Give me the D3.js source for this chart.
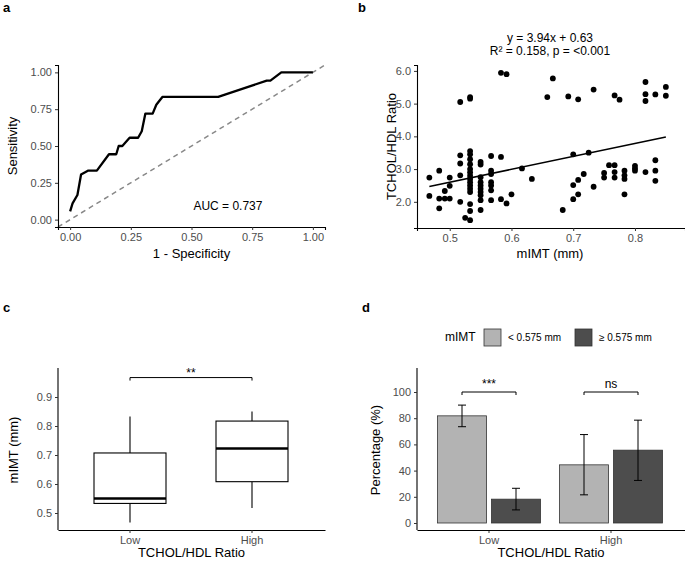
<!DOCTYPE html>
<html><head><meta charset="utf-8">
<script src="https://cdn.jsdelivr.net/npm/d3@7"></script>
<style>body{margin:0;background:#fff}text{font-family:"Liberation Sans",Arial,sans-serif}</style>
</head><body><svg id="c" width="685" height="563"></svg>
<script>
// ---- Data ----
const rocFPR = [0,0.01,0.03,0.045,0.06,0.075,0.11,0.16,0.19,0.2,0.215,0.245,0.28,0.295,0.31,0.34,0.355,0.38,0.61,0.81,0.825,0.87,1];
const rocTPR = [0.056,0.11,0.167,0.306,0.32,0.333,0.333,0.444,0.444,0.5,0.5,0.556,0.556,0.6,0.72,0.72,0.78,0.833,0.833,0.944,0.944,1,1];
const rocTicks = [0,0.25,0.5,0.75,1];
const scatterX = [0.467,0.467,0.483,0.483,0.483,0.492,0.492,0.5,0.5,0.5,0.517,0.517,0.517,0.517,0.517,0.525,
 0.533,0.533,0.533,0.533,0.533,0.533,0.533,0.533,0.533,0.533,0.533,0.533,0.533,0.533,0.533,0.533,0.533,
 0.55,0.55,0.55,0.55,0.55,0.55,0.55,0.55,0.55,0.55,0.567,0.567,0.567,0.567,0.567,0.567,0.567,
 0.583,0.583,0.583,0.592,0.592,0.6,0.617,0.633,0.658,0.667,0.683,0.692,0.7,0.7,0.7,0.708,0.708,0.708,0.717,0.725,0.733,0.733,
 0.75,0.75,0.758,0.767,0.767,0.767,0.767,0.775,0.783,0.783,0.783,0.783,0.8,0.8,0.8,0.817,0.817,0.817,0.817,0.833,0.833,0.833,0.833,0.85,0.85];
const scatterY = [2.74,2.18,2.95,2.10,1.80,2.33,2.10,2.74,2.49,2.10,5.05,3.42,3.17,2.81,2.0,1.51,
 5.2,5.15,3.55,3.45,3.3,3.15,3.0,2.9,2.8,2.7,2.6,2.5,2.4,2.3,1.93,1.72,1.44,
 3.22,3.14,2.75,2.6,2.5,2.4,2.3,2.2,2.05,1.75,3.40,2.95,2.85,2.6,2.5,2.35,2.05,
 5.94,3.37,2.08,5.9,1.95,2.23,3.02,2.7,5.2,5.77,1.75,5.22,3.45,2.51,2.08,5.13,2.67,2.23,2.85,3.5,5.43,2.46,
 2.88,2.74,3.12,5.25,3.12,2.91,2.74,5.12,2.95,2.81,2.70,2.23,3.1,3.02,2.95,5.66,5.29,5.08,2.91,5.28,3.27,2.95,2.64,5.51,5.24];
const scatterXTicks = [0.5,0.6,0.7,0.8];
const scatterYTicks = [2,3,4,5,6];
const fitSlope = 3.94, fitIntercept = 0.63, fitRange = [0.467,0.85];
const boxGroups = ["Low","High"];
const boxStats = [ {min:0.467,q1:0.533,med:0.55,q3:0.707,max:0.833}, {min:0.517,q1:0.608,med:0.722,q3:0.817,max:0.85} ];
const boxTicks = [0.5,0.6,0.7,0.8,0.9];
const barGroups = ["Low","High"];
const barSeries = ["< 0.575 mm","≥ 0.575 mm"];
const barValues = [[81.8,18.2],[44.4,55.6]];
const barLo = [[73.5,10],[21.5,32.5]];
const barHi = [[90,26.5],[67.5,78.5]];
const barSig = ["***","ns"];
const barTicks = [0,20,40,60,80,100];
const barColors = ["#b3b3b3","#4d4d4d"];

const svg = d3.select("#c");
const fs=11, tfs=13;
function axes(L,B,xa,ya){
  const ax=svg.append("g").attr("transform",`translate(0,${B})`).call(xa);
  const ay=svg.append("g").attr("transform",`translate(${L},0)`).call(ya);
  [ax,ay].forEach(a=>{a.select(".domain").attr("stroke","#000").attr("stroke-width",1.1);
    a.selectAll(".tick line").attr("stroke","#333");
    a.selectAll("text").attr("fill","#4d4d4d").style("font-size",fs+"px").style("font-family","Liberation Sans, Arial, sans-serif");});
}
function label(t,x,y){svg.append("text").attr("x",x).attr("y",y).text(t).style("font-weight","bold").style("font-size","13px");}
function title(t,x,y,rot){const e=svg.append("text").attr("text-anchor","middle").style("font-size",tfs+"px").text(t);
  if(rot) e.attr("transform",`translate(${x},${y}) rotate(-90)`); else e.attr("x",x).attr("y",y);}

// ---- Panel a ----
{
 const L=58,T=65,R=325,B=227;
 const x=d3.scaleLinear().domain([-0.05,1.05]).range([L,R]);
 const y=d3.scaleLinear().domain([-0.05,1.05]).range([B,T]);
 svg.append("line").attr("x1",x(-0.05)).attr("y1",y(-0.05)).attr("x2",x(1.05)).attr("y2",y(1.05)).attr("stroke","#888").attr("stroke-width",1.5).attr("stroke-dasharray","5,4");
 svg.append("path").datum(rocFPR.map((f,i)=>[f,rocTPR[i]])).attr("d",d3.line().x(d=>x(d[0])).y(d=>y(d[1]))).attr("fill","none").attr("stroke","#000").attr("stroke-width",2.3).attr("stroke-linejoin","round");
 svg.append("text").attr("x",x(0.65)).attr("y",y(0.1)+5).attr("text-anchor","middle").style("font-size","12px").text("AUC = 0.737");
 const f=d3.format(".2f");
 axes(L,B,d3.axisBottom(x).tickValues(rocTicks).tickFormat(f).tickSizeOuter(0).tickSize(3),d3.axisLeft(y).tickValues(rocTicks).tickFormat(f).tickSizeOuter(0).tickSize(3));
 label("a",3,12); title("1 - Specificity",(L+R)/2,258); title("Sensitivity",17,(T+B)/2,true);
}
// ---- Panel b ----
{
 const L=417,T=65,R=685,B=228;
 const x=d3.scaleLinear().domain([0.447,0.881]).range([L,R]);
 const y=d3.scaleLinear().domain([1.2,6.18]).range([B,T]);
 svg.append("g").selectAll("circle").data(scatterX.map((v,i)=>[v,scatterY[i]])).join("circle")
  .attr("cx",d=>x(d[0])).attr("cy",d=>y(d[1])).attr("r",2.9).attr("fill","#000");
 svg.append("line").attr("x1",x(fitRange[0])).attr("y1",y(fitSlope*fitRange[0]+fitIntercept))
  .attr("x2",x(fitRange[1])).attr("y2",y(fitSlope*fitRange[1]+fitIntercept)).attr("stroke","#000").attr("stroke-width",1.6);
 axes(L,B,d3.axisBottom(x).tickValues(scatterXTicks).tickFormat(d3.format(".1f")).tickSizeOuter(0).tickSize(3),d3.axisLeft(y).tickValues(scatterYTicks).tickSizeOuter(0).tickSize(3));
 svg.append("text").attr("x",550).attr("y",42).attr("text-anchor","middle").style("font-size","12px").text("y = 3.94x + 0.63");
 svg.append("text").attr("x",550).attr("y",55).attr("text-anchor","middle").style("font-size","12px").text("R² = 0.158, p = <0.001");
 label("b",358,12); title("mIMT (mm)",550,258); title("TCHOL/HDL Ratio",396,(T+B)/2,true);
}
// ---- Panel c ----
{
 const L=58,T=368,R=325,B=530;
 const y=d3.scaleLinear().domain([0.9,0.5]).range([397,513]);
 const x=d3.scalePoint().domain(boxGroups).range([130,252]);
 const bw=72;
 boxStats.forEach((s,i)=>{
  const cx=x(boxGroups[i]);
  svg.append("line").attr("x1",cx).attr("x2",cx).attr("y1",y(s.max)).attr("y2",y(s.q3)).attr("stroke","#000").attr("stroke-width",1.1);
  svg.append("line").attr("x1",cx).attr("x2",cx).attr("y1",y(s.q1)).attr("y2",y(s.min)).attr("stroke","#000").attr("stroke-width",1.1);
  svg.append("rect").attr("x",cx-bw/2).attr("width",bw).attr("y",y(s.q3)).attr("height",y(s.q1)-y(s.q3)).attr("fill","#fff").attr("stroke","#000").attr("stroke-width",1.1);
  svg.append("line").attr("x1",cx-bw/2).attr("x2",cx+bw/2).attr("y1",y(s.med)).attr("y2",y(s.med)).attr("stroke","#000").attr("stroke-width",2.5);
 });
 const by=y(0.967);
 svg.append("path").attr("d",`M${x("Low")},${by+3}V${by}H${x("High")}V${by+3}`).attr("fill","none").attr("stroke","#000").attr("stroke-width",1);
 svg.append("text").attr("x",(x("Low")+x("High"))/2).attr("y",by-1).attr("text-anchor","middle").style("font-size","12px").text("**");
 const xs=d3.scaleLinear().domain([0,1]).range([L,R]);
 axes(L,B,d3.axisBottom(xs).tickValues([]).tickSizeOuter(0),d3.axisLeft(y).tickValues(boxTicks).tickFormat(d3.format(".1f")).tickSizeOuter(0).tickSize(3));
 svg.select("g:last-child .domain").attr("d",`M0,${T}V${B}`);
 // x ticks
 boxGroups.forEach(gp=>{
  svg.append("line").attr("x1",x(gp)).attr("x2",x(gp)).attr("y1",B).attr("y2",B+3).attr("stroke","#333");
  svg.append("text").attr("x",x(gp)).attr("y",B+14).attr("text-anchor","middle").attr("fill","#4d4d4d").style("font-size",fs+"px").text(gp);
 });
 label("c",3,312); title("TCHOL/HDL Ratio",(L+R)/2,557); title("mIMT (mm)",18,450,true);
}
// ---- Panel d ----
{
 const L=417,T=368,R=685,B=530;
 const y=d3.scaleLinear().domain([0,100]).range([523,392]);
 const x0=d3.scalePoint().domain(barGroups).range([489,611]);
 const bw=49, gap=5;
 barGroups.forEach((gp,i)=>{
  barSeries.forEach((s,j)=>{
   const cx=x0(gp)+(j===0?-(bw+gap)/2:(bw+gap)/2);
   svg.append("rect").attr("x",cx-bw/2).attr("width",bw).attr("y",y(barValues[i][j])).attr("height",y(0)-y(barValues[i][j]))
    .attr("fill",barColors[j]).attr("stroke","#333").attr("stroke-width",0.8);
   svg.append("path").attr("d",`M${cx-4},${y(barHi[i][j])}H${cx+4}M${cx},${y(barHi[i][j])}V${y(barLo[i][j])}M${cx-4},${y(barLo[i][j])}H${cx+4}`)
    .attr("stroke","#000").attr("stroke-width",1).attr("fill","none");
  });
  const a=x0(gp)-(bw+gap)/2, b=x0(gp)+(bw+gap)/2, by=y(100);
  svg.append("path").attr("d",`M${a},${by+3}V${by}H${b}V${by+3}`).attr("fill","none").attr("stroke","#000").attr("stroke-width",1);
  svg.append("text").attr("x",(a+b)/2).attr("y",by-4).attr("text-anchor","middle").style("font-size","12px").text(barSig[i]);
  svg.append("line").attr("x1",x0(gp)).attr("x2",x0(gp)).attr("y1",B).attr("y2",B+3).attr("stroke","#333");
  svg.append("text").attr("x",x0(gp)).attr("y",B+14).attr("text-anchor","middle").attr("fill","#4d4d4d").style("font-size",fs+"px").text(gp);
 });
 const xs=d3.scaleLinear().domain([0,1]).range([L,R]);
 axes(L,B,d3.axisBottom(xs).tickValues([]).tickSizeOuter(0),d3.axisLeft(y).tickValues(barTicks).tickSizeOuter(0).tickSize(3));
 svg.select("g:last-child .domain").attr("d",`M0,${T}V${B}`);
 // legend
 svg.append("text").attr("x",445).attr("y",341).style("font-size","12px").text("mIMT");
 const lx=[484,575];
 barSeries.forEach((s,j)=>{
  svg.append("rect").attr("x",lx[j]).attr("y",329).attr("width",17).attr("height",17).attr("fill",barColors[j]).attr("stroke","#333").attr("stroke-width",0.8);
  svg.append("text").attr("x",lx[j]+24).attr("y",341).style("font-size","10px").text(s);
 });
 label("d",362,312); title("TCHOL/HDL Ratio",551,557); title("Percentage (%)",380,450,true);
}
</script>
</body></html>
